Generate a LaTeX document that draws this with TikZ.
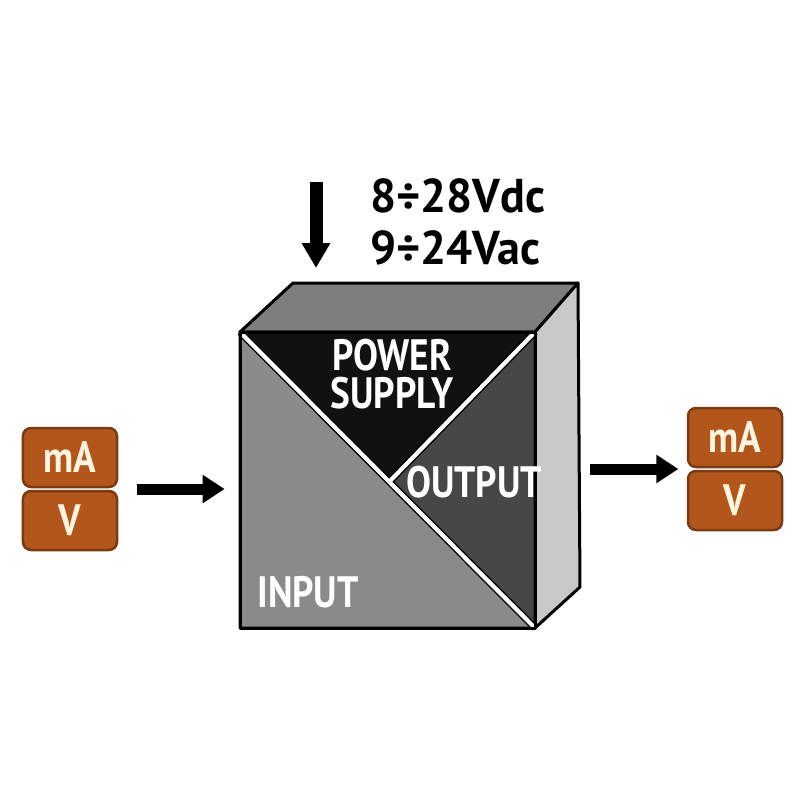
\documentclass[tikz,border=0pt]{standalone}
\usepackage{fontspec}
\newfontfamily\condfont{PT Sans}[FakeStretch=0.85]
\newfontfamily\supplyfont{PT Sans}[FakeStretch=0.97]
\usetikzlibrary{arrows.meta,fit,positioning}

\definecolor{sigfill}{HTML}{B3561B}
\definecolor{sigedge}{HTML}{7A3A12}
\definecolor{sigtext}{HTML}{FFF4E0}
\definecolor{topface}{HTML}{7E7E7E}
\definecolor{sideface}{HTML}{C8C8C8}
\definecolor{inface}{HTML}{8A8A8A}
\definecolor{outface}{HTML}{474747}
\definecolor{pwrface}{HTML}{111111}

\begin{document}
\begin{tikzpicture}[
  x=0.2mm, y=-0.2mm,
  node distance=0.3mm,
  sig/.style={draw=sigedge, line width=0.5mm, fill=sigfill, rounded corners=1.6mm,
    minimum width=18.8mm, minimum height=11.8mm, inner sep=0pt,
    text=sigtext, font=\condfont\bfseries\fontsize{25}{26}\selectfont},
  face/.style={draw=black, line width=0.6mm, line join=round},
  label/.style={text=white, align=center, inner sep=0pt,
    font=\condfont\bfseries\fontsize{25}{22}\selectfont},
  bigarrow/.style={-{Triangle[length=4.4mm, width=5.4mm]}, line width=2.2mm},
  feedarrow/.style={-{Triangle[length=5mm, width=5.4mm]}, line width=2.6mm}
]
\useasboundingbox[fill=white] (0,0) rectangle (800,800);

% cube corners
\coordinate (ftl) at (240,332);
\coordinate (ftr) at (535,332);
\coordinate (fbr) at (535,628);
\coordinate (fbl) at (240,628);
\coordinate (btl) at (293,283);
\coordinate (btr) at (578,283);
\coordinate (bbr) at (580,587);
\coordinate (mid) at (390,481);
\node[minimum width=59mm, minimum height=59.2mm, inner sep=0pt] (front) at (387.5,480) {};

% faces
\draw[face, fill=topface] (ftl) -- (btl) -- (btr) -- (ftr) -- cycle;
\draw[face, fill=sideface] (ftr) -- (btr) -- (bbr) -- (fbr) -- cycle;
\draw[face, fill=inface] (ftl) -- (fbr) -- (fbl) -- cycle;
\draw[face, fill=outface] (ftr) -- (fbr) -- (mid) -- cycle;
\draw[face, fill=pwrface] (ftl) -- (ftr) -- (mid) -- cycle;

% dividers
\draw[line width=4pt, black] (ftl) -- (fbr) (ftr) -- (mid);
\draw[line width=2.4pt, white] (ftl) -- (fbr) (ftr) -- (mid);
\draw[face] (ftl) rectangle (fbr);

% face labels
\node[label] (power) at (392,374) {POWER\\SUPPLY};
\node[label] (output) at (474,482) {OUTPUT};
\node[label] (input) at (308,592) {INPUT};

% supply
\node[anchor=west, align=left, inner sep=0pt,
  font=\supplyfont\bfseries\fontsize{27}{30}\selectfont] (supply) at (370,222)
  {8÷28Vdc\\9÷24Vac};
\coordinate (feed) at (316,182);
\coordinate (lid) at (316,283);
\draw[feedarrow, shorten >=3mm] (feed) -- (lid);

% input signals
\node[sig] (inmA) at (70,457.5) {mA};
\node[sig, below=of inmA] (inV) {V};
\node[fit=(inmA)(inV), inner sep=0pt] (insig) {};
\draw[bigarrow, shorten <=3.6mm, shorten >=3mm] (insig.east) -- (insig.east -| front.west);

% output signals
\node[sig] (outmA) at (735,437.5) {mA};
\node[sig, below=of outmA] (outV) {V};
\node[fit=(outmA)(outV), inner sep=0pt] (outsig) {};
\coordinate (side) at (578,470);
\draw[bigarrow, shorten <=2.4mm, shorten >=1.6mm] (side |- outsig.west) -- (outsig.west);
\end{tikzpicture}
\end{document}
